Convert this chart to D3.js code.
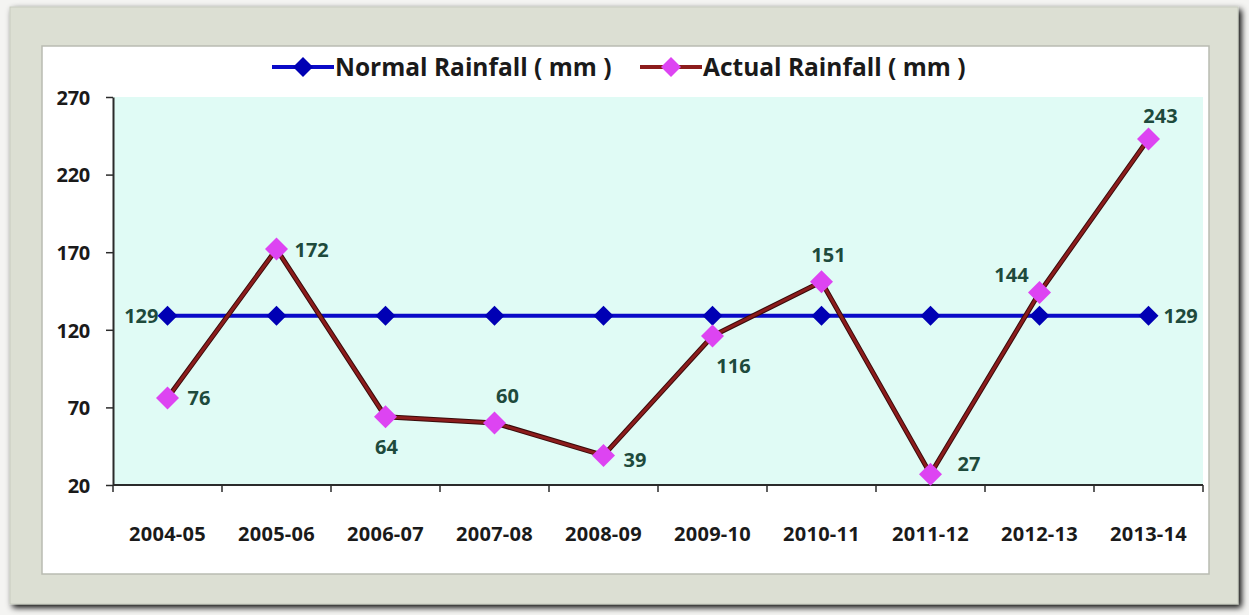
<!DOCTYPE html>
<html><head><meta charset="utf-8">
<script src="https://cdn.jsdelivr.net/npm/d3@7"></script>
<style>body{margin:0;background:#fff;}svg{display:block;}</style>
</head><body>
<script>
const categories = ["2004-05","2005-06","2006-07","2007-08","2008-09","2009-10","2010-11","2011-12","2012-13","2013-14"];
const normalRainfall = [129,129,129,129,129,129,129,129,129,129];
const actualRainfall = [76,172,64,60,39,116,151,27,144,243];
const yTicks = [20,70,120,170,220,270];
const seriesNames = ["Normal Rainfall ( mm )","Actual Rainfall ( mm )"];

const W=1249,H=615;
const svg=d3.select("body").append("svg").attr("width",W).attr("height",H);
const defs=svg.append("defs");
const f=defs.append("filter").attr("id","sh").attr("x","-5%").attr("y","-5%").attr("width","110%").attr("height","110%");
f.append("feGaussianBlur").attr("in","SourceAlpha").attr("stdDeviation",3);
f.append("feOffset").attr("dx",3).attr("dy",3).attr("result","b");
const m=f.append("feMerge");m.append("feMergeNode").attr("in","b");m.append("feMergeNode").attr("in","SourceGraphic");

// outer frame
svg.append("rect").attr("x",0).attr("y",0).attr("width",W).attr("height",H).attr("fill","#f4f4f2");
svg.append("rect").attr("x",10).attr("y",7).attr("width",1228).attr("height",597).attr("fill","#dcdfd3").attr("stroke","#c8cbbf").attr("filter","url(#sh)");
// inner white panel
svg.append("rect").attr("x",42).attr("y",46).attr("width",1167).attr("height",528).attr("fill","#ffffff").attr("stroke","#b9bcb2").attr("stroke-width",1.5);

const x0=113,x1=1203,yTop=97,yBot=485;
const x=d3.scaleBand().domain(categories).range([x0,x1]);
const y=d3.scaleLinear().domain([20,270]).range([yBot,yTop]);

svg.append("rect").attr("x",x0).attr("y",yTop).attr("width",x1-x0).attr("height",yBot-yTop).attr("fill","#e0fbf5");

const font="'Open Sans', 'Noto Sans', sans-serif";
const fs=20;
// y axis
const ya=svg.append("g").attr("transform",`translate(${x0},0)`).call(d3.axisLeft(y).tickValues(yTicks).tickSize(7).tickSizeOuter(0));
ya.select(".domain").attr("stroke","#2b2b2b").attr("stroke-width",2);
ya.selectAll(".tick line").attr("stroke","#2b2b2b").attr("stroke-width",1.5);
ya.selectAll(".tick text").attr("x",-23).attr("dy","0.36em").attr("font-family",font).attr("font-weight","bold").attr("font-size",fs).attr("fill","#1a1a1a").attr("letter-spacing","-0.3");

// x axis with ticks at band boundaries
svg.append("line").attr("x1",x0).attr("x2",x1).attr("y1",yBot).attr("y2",yBot).attr("stroke","#2b2b2b").attr("stroke-width",2);
const bounds=categories.map(c=>x(c)).concat([x1]);
svg.selectAll(".xt").data(bounds).enter().append("line").attr("x1",d=>d).attr("x2",d=>d).attr("y1",yBot).attr("y2",yBot+7).attr("stroke","#2b2b2b").attr("stroke-width",1.5);
svg.selectAll(".xl").data(categories).enter().append("text").attr("x",d=>x(d)+x.bandwidth()/2).attr("y",yBot+56)
 .attr("text-anchor","middle").attr("font-family",font).attr("font-weight","bold").attr("font-size",fs).attr("fill","#1a1a1a").attr("letter-spacing","0.3").text(d=>d);

const cx=d=>x(d)+x.bandwidth()/2;
const line=d3.line().x((d,i)=>cx(categories[i])).y(d=>y(d));

// normal series
svg.append("path").datum(normalRainfall).attr("d",line).attr("fill","none").attr("stroke","#0a0ac8").attr("stroke-width",4);
const diamond=(s)=>`M0,${-s}L${s},0L0,${s}L${-s},0Z`;
svg.selectAll(".nm").data(normalRainfall).enter().append("path").attr("d",diamond(10))
 .attr("transform",(d,i)=>`translate(${cx(categories[i])},${y(d)})`).attr("fill","#0000b4");

// actual series
svg.append("path").datum(actualRainfall).attr("d",line).attr("fill","none").attr("stroke","#3a0a0a").attr("stroke-width",5);
svg.append("path").datum(actualRainfall).attr("d",line).attr("fill","none").attr("stroke","#8c1c1c").attr("stroke-width",3);
svg.selectAll(".am").data(actualRainfall).enter().append("path").attr("d",diamond(11.5))
 .attr("transform",(d,i)=>`translate(${cx(categories[i])},${y(d)})`).attr("fill","#dd44f2");

// labels
const lblColor="#1e4a3c";
const actualOff=[[20,7,"start"],[18,8,"start"],[1,37,"middle"],[13,-20,"middle"],[20,11,"start"],[21,37,"middle"],[7,-20,"middle"],[27,-3,"start"],[-28,-11,"middle"],[12,-16,"middle"]];
svg.selectAll(".al").data(actualRainfall).enter().append("text")
 .attr("x",(d,i)=>cx(categories[i])+actualOff[i][0]).attr("y",(d,i)=>y(d)+actualOff[i][1]).attr("text-anchor",(d,i)=>actualOff[i][2])
 .attr("font-family",font).attr("font-weight","bold").attr("font-size",fs).attr("fill",lblColor).text(d=>d);
const nIdx=[0,9];
svg.selectAll(".nl").data(nIdx).enter().append("text")
 .attr("x",i=>i===0?cx(categories[i])-9:cx(categories[i])+15).attr("y",i=>y(normalRainfall[i])+7)
 .attr("text-anchor",i=>i===0?"end":"start").attr("font-family",font).attr("font-weight","bold").attr("font-size",fs).attr("fill",lblColor).text(i=>normalRainfall[i]);

// legend
const lg=svg.append("g");
const leg=[{x:272,name:seriesNames[0],stroke:"#0a0ac8",fill:"#0000b4"},{x:640,name:seriesNames[1],stroke:"#8c1c1c",fill:"#dd44f2"}];
leg.forEach(l=>{
 lg.append("line").attr("x1",l.x).attr("x2",l.x+62).attr("y1",67).attr("y2",67).attr("stroke",l.stroke).attr("stroke-width",4);
 lg.append("path").attr("d",diamond(10)).attr("transform",`translate(${l.x+31},67)`).attr("fill",l.fill);
 lg.append("text").attr("x",l.x+63).attr("y",76).attr("font-family",font).attr("font-weight","bold").attr("font-size",24.5).attr("fill","#1a1a1a").text(l.name);
});
</script>
</body></html>
